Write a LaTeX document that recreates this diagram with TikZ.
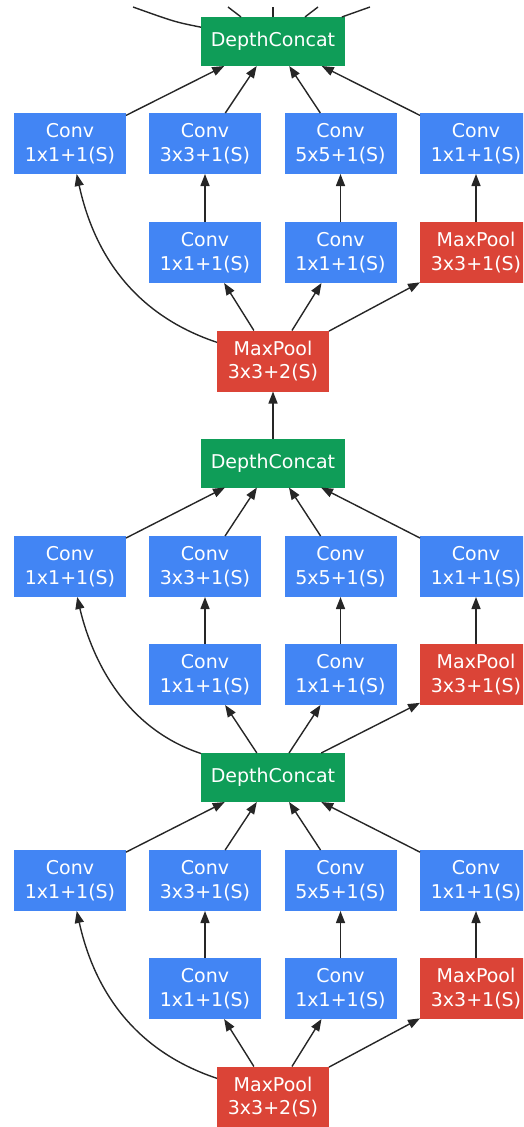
\documentclass[tikz,border=0pt]{standalone}
\usepackage{fontspec}
\setmainfont{DejaVu Sans}
\usetikzlibrary{arrows.meta}
\definecolor{gblue}{HTML}{4285F4}
\definecolor{gred}{HTML}{DB4437}
\definecolor{ggreen}{HTML}{0F9D58}
\tikzset{
  box/.style={inner sep=0pt, outer sep=0pt, text=white, align=center,
    font=\fontsize{19}{23.5}\selectfont},
  conv/.style={box, fill=gblue, minimum width=112pt, minimum height=61pt},
  pool/.style={box, fill=gred, minimum width=112pt, minimum height=61pt},
  concat/.style={box, fill=ggreen, minimum width=144pt, minimum height=49pt},
  arr/.style={-{Triangle[length=12pt,width=9pt]}, line width=1.4pt, black!85},
  ln/.style={line width=1.4pt, black!85}
}
\begin{document}
\begin{tikzpicture}[x=1pt,y=-1pt]
\useasboundingbox (0,0) rectangle (523,1127);
\clip (0,0) rectangle (523,1127);
% ---------- top block ----------
\node[concat] (dc1) at (273,41.5) {DepthConcat};
\node[conv] (a1) at (70,143.5) {Conv\\1x1+1(S)};
\node[conv] (a2) at (205,143.5) {Conv\\3x3+1(S)};
\node[conv] (a3) at (340.5,143.5) {Conv\\5x5+1(S)};
\node[conv] (a4) at (476,143.5) {Conv\\1x1+1(S)};
\node[conv] (b2) at (205,252.5) {Conv\\1x1+1(S)};
\node[conv] (b3) at (340.5,252.5) {Conv\\1x1+1(S)};
\node[pool] (b4) at (476,252.5) {MaxPool\\3x3+1(S)};
\node[pool] (mp1) at (273,361) {MaxPool\\3x3+2(S)};
% ---------- middle block ----------
\node[concat] (dc2) at (273,463) {DepthConcat};
\node[conv] (c1) at (70,566.5) {Conv\\1x1+1(S)};
\node[conv] (c2) at (205,566.5) {Conv\\3x3+1(S)};
\node[conv] (c3) at (340.5,566.5) {Conv\\5x5+1(S)};
\node[conv] (c4) at (476,566.5) {Conv\\1x1+1(S)};
\node[conv] (d2) at (205,674.5) {Conv\\1x1+1(S)};
\node[conv] (d3) at (340.5,674.5) {Conv\\1x1+1(S)};
\node[pool] (d4) at (476,674.5) {MaxPool\\3x3+1(S)};
\node[concat] (dc3) at (273,777.5) {DepthConcat};
% ---------- bottom block ----------
\node[conv] (e1) at (70,880.5) {Conv\\1x1+1(S)};
\node[conv] (e2) at (205,880.5) {Conv\\3x3+1(S)};
\node[conv] (e3) at (340.5,880.5) {Conv\\5x5+1(S)};
\node[conv] (e4) at (476,880.5) {Conv\\1x1+1(S)};
\node[conv] (f2) at (205,988.5) {Conv\\1x1+1(S)};
\node[conv] (f3) at (340.5,988.5) {Conv\\1x1+1(S)};
\node[pool] (f4) at (476,988.5) {MaxPool\\3x3+1(S)};
\node[pool] (mp2) at (273,1097) {MaxPool\\3x3+2(S)};
% ---------- free ends at the top ----------
\coordinate (t1) at (133,7);
\coordinate (t2) at (228,7);
\coordinate (t3) at (273,7);
\coordinate (t4) at (318,7);
\coordinate (t5) at (370,7);
\draw[ln] (dc1) .. controls (175,22) .. (t1);
\draw[ln] (dc1) -- (t2);
\draw[ln] (dc1) -- (t3);
\draw[ln] (dc1) -- (t4);
\draw[ln] (dc1) -- (t5);
% ---------- top block edges ----------
\foreach \s in {a1,a2,a3,a4} \draw[arr] (\s) -- (dc1);
\draw[arr] (b2) -- (a2);
\draw[arr] (b3) -- (a3);
\draw[arr] (b4) -- (a4);
\draw[arr] (mp1) .. controls (120,310) and (90,235) .. (a1);
\draw[arr] (mp1) -- (b2);
\draw[arr] (mp1) -- (b3);
\draw[arr] (mp1) -- (b4);
\draw[arr] (dc2) -- (mp1);
% ---------- middle block edges ----------
\foreach \s in {c1,c2,c3,c4} \draw[arr] (\s) -- (dc2);
\draw[arr] (d2) -- (c2);
\draw[arr] (d3) -- (c3);
\draw[arr] (d4) -- (c4);
\draw[arr] (dc3) .. controls (120,726.5) and (90,651.5) .. (c1);
\draw[arr] (dc3) -- (d2);
\draw[arr] (dc3) -- (d3);
\draw[arr] (dc3) -- (d4);
% ---------- bottom block edges ----------
\foreach \s in {e1,e2,e3,e4} \draw[arr] (\s) -- (dc3);
\draw[arr] (f2) -- (e2);
\draw[arr] (f3) -- (e3);
\draw[arr] (f4) -- (e4);
\draw[arr] (mp2) .. controls (120,1046) and (90,971) .. (e1);
\draw[arr] (mp2) -- (f2);
\draw[arr] (mp2) -- (f3);
\draw[arr] (mp2) -- (f4);
\end{tikzpicture}
\end{document}
